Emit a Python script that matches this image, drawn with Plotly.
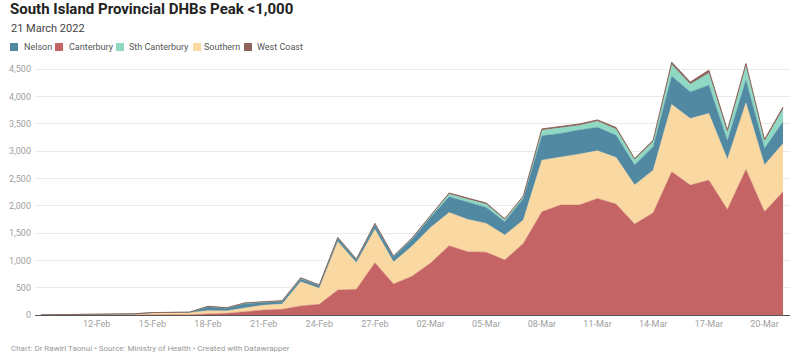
import pandas as pd
import plotly.graph_objects as go

dates = pd.date_range("2022-02-09", "2022-03-21", freq="D")

canterbury = [0, 0, 0, 1, 1, 2, 3, 4, 6, 20, 30, 60, 91, 104, 165, 195, 457, 470, 957, 567,
              710, 950, 1270, 1158, 1150, 1006, 1311, 1890, 2012, 2012, 2134, 2030, 1664, 1871,
              2621, 2378, 2469, 1933, 2665, 1890, 2255]
southern = [2, 3, 5, 7, 10, 15, 35, 38, 36, 60, 45, 70, 89, 96, 444, 293, 884, 487, 610, 403,
            550, 650, 605, 592, 527, 457, 427, 945, 872, 933, 871, 854, 714, 781,
            1232, 1219, 1220, 915, 1218, 854, 885]
nelson = [1, 1, 2, 2, 3, 4, 5, 6, 7, 70, 50, 80, 50, 50, 56, 50, 65, 55, 90, 95,
          125, 190, 289, 322, 292, 244, 396, 445, 440, 440, 430, 408, 366, 426,
          520, 487, 518, 340, 415, 304, 396]
sth_canterbury = [0, 0, 0, 0, 0, 1, 1, 2, 2, 7, 5, 8, 6, 8, 12, 8, 10, 8, 15, 10,
                  15, 20, 50, 45, 60, 35, 30, 100, 95, 85, 110, 110, 100, 100,
                  210, 140, 220, 150, 260, 130, 230]
west_coast = [0, 0, 0, 0, 0, 0, 1, 1, 1, 3, 3, 4, 4, 4, 5, 3, 5, 4, 5, 5,
              10, 10, 20, 23, 21, 18, 16, 26, 27, 26, 26, 30, 20, 22,
              45, 40, 55, 45, 45, 35, 40]

series_names = ["Canterbury", "Southern", "Nelson", "Sth Canterbury", "West Coast"]
series_vals = [canterbury, southern, nelson, sth_canterbury, west_coast]
colors = {
    "Nelson": "#5189a3",
    "Canterbury": "#c46464",
    "Sth Canterbury": "#8ed8c4",
    "Southern": "#fad8a2",
    "West Coast": "#8d655c",
}
legend_order = ["Nelson", "Canterbury", "Sth Canterbury", "Southern", "West Coast"]

tick_dates = pd.date_range("2022-02-12", "2022-03-20", freq="3D")
y_ticks = [0, 500, 1000, 1500, 2000, 2500, 3000, 3500, 4000, 4500]

W, H = 800, 359
ML, MR, MT, MB = 35, 10, 61, 44
PW = W - ML - MR
PH = H - MT - MB

def px_x(x):
    return (x - ML) / PW

def px_y(y):
    return (H - MB - y) / PH

fig = go.Figure()
for name, vals in zip(series_names, series_vals):
    fig.add_trace(go.Scatter(
        x=dates, y=vals, name=name, mode="lines", stackgroup="one",
        line=dict(color=colors[name], width=1 if name == "West Coast" else 0.5),
        fillcolor=colors[name], hoverinfo="skip", showlegend=False,
    ))

x0 = dates[0] - pd.Timedelta(hours=7.8)
x1 = dates[-1] + pd.Timedelta(hours=9)

fig.update_layout(
    width=W, height=H,
    margin=dict(l=ML, r=MR, t=MT, b=MB),
    paper_bgcolor="white", plot_bgcolor="white",
    font=dict(family="Roboto, Arial, sans-serif", color="#999999", size=9),
    xaxis=dict(
        range=[x0, x1], tickvals=list(tick_dates), tickformat="%d-%b",
        showgrid=False, zeroline=False, showline=True, linecolor="#555555",
        linewidth=1, ticks="", tickfont=dict(size=9, color="#a0a0a0"),
    ),
    yaxis=dict(
        range=[0, 4650], tickvals=y_ticks, tickformat=",",
        showgrid=True, gridcolor="#ebebeb", gridwidth=1, zeroline=False,
        ticks="", tickfont=dict(size=9, color="#a0a0a0"), ticklabelstandoff=3,
    ),
    showlegend=False,
)

annotations = [
    dict(text="<b>South Island Provincial DHBs Peak &lt;1,000</b>", x=px_x(8), y=px_y(9),
         xanchor="left", yanchor="middle", font=dict(size=15, color="#222222")),
    dict(text="21 March 2022", x=px_x(9), y=px_y(28.5), xanchor="left", yanchor="middle",
         font=dict(size=11, color="#444444")),
    dict(text="Chart: Dr Rawiri Taonui • Source: Ministry of Health • Created with Datawrapper",
         x=px_x(9), y=px_y(348), xanchor="left", yanchor="middle",
         font=dict(size=8, color="#999999")),
]
shapes = []
sw_x = [10, 55, 116, 193, 244]
tx_x = [22, 67, 127, 202, 255]
for name, sx, tx in zip(legend_order, sw_x, tx_x):
    shapes.append(dict(type="rect", xref="paper", yref="paper",
                       x0=px_x(sx), x1=px_x(sx + 8), y0=px_y(51), y1=px_y(43),
                       fillcolor=colors[name], line=dict(width=0)))
    annotations.append(dict(text=name, x=px_x(tx), y=px_y(47), xanchor="left",
                            yanchor="middle", font=dict(size=9, color="#555555")))

for a in annotations:
    a.update(xref="paper", yref="paper", showarrow=False)
fig.update_layout(annotations=annotations, shapes=shapes)

fig.write_html("out.html")
